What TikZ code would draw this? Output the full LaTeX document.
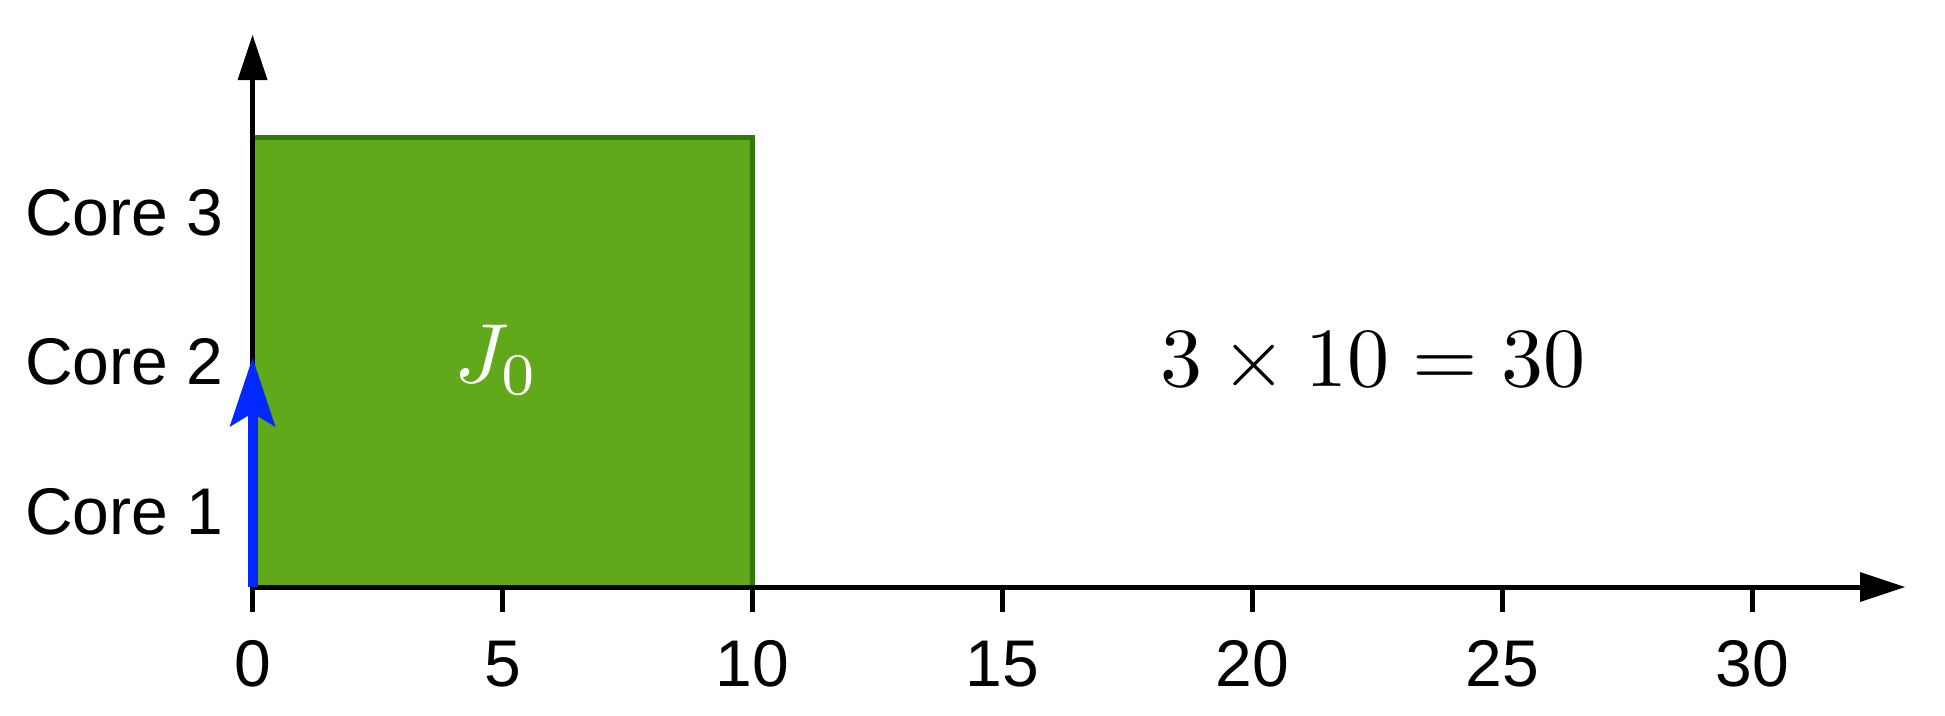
\documentclass[tikz,border=0pt]{standalone}
\usepackage[no-math]{fontspec}
\newfontfamily\labelfont{Liberation Sans}
\usetikzlibrary{arrows.meta}
\definecolor{jobfill}{RGB}{97,169,26}
\definecolor{jobedge}{RGB}{46,122,10}
\definecolor{releaseblue}{RGB}{0,40,255}
\tikzset{
  axisline/.style={line width=5pt, black},
  axistip/.style={-{Triangle[length=45pt,width=30pt,line width=0pt]}},
  tickmark/.style={line width=5pt, black},
  ticklabel/.style={anchor=base, inner sep=0pt, font=\labelfont\fontsize{66}{80}\selectfont},
  corelabel/.style={anchor=base west, inner sep=0pt, font=\labelfont\fontsize{66}{80}\selectfont},
  jobbox/.style={fill=jobfill, draw=jobedge, line width=5pt},
  mathlabel/.style={anchor=base, inner sep=0pt},
  releasearrow/.style={releaseblue, line width=10pt, -{Stealth[length=69pt,width=46pt,inset=14pt,line width=0pt]}}
}
\begin{document}
\begin{tikzpicture}[x=1pt,y=-1pt]
\useasboundingbox[fill=white] (0,0) rectangle (1945,715);
\coordinate (O) at (252.5,587);
\coordinate (Xstart) at (250,587);
\coordinate (Xend) at (1905,587);
\coordinate (Yend) at (252.5,35);
\coordinate (Rel) at (252.5,358);
% job
\draw[jobbox] (252.5,587) rectangle (752.5,137.5);
\node (J0) [mathlabel, text=white] at (497,382) {\scalebox{8.4}{$J_0$}};
% axes
\draw[axisline, axistip] (Xstart) -- (Xend);
\draw[axisline, axistip] (O) -- (Yend);
% ticks and labels
\foreach \t in {0,5,...,30} {
  \coordinate (t\t) at ({252.5+50*\t},587);
  \draw[tickmark] (t\t) -- ++(0,25);
  \node (l\t) [ticklabel] at ({252.5+50*\t},686) {\t};
}
% core labels
\node (c3) [corelabel] at (25,235) {Core 3};
\node (c2) [corelabel] at (25,384.5) {Core 2};
\node (c1) [corelabel] at (25,534) {Core 1};
% equation
\node (eq) [mathlabel] at (1373,386) {\scalebox{8.4}{$3\times10=30$}};
% release arrow
\draw[releasearrow] (O) -- (Rel);
\end{tikzpicture}
\end{document}
